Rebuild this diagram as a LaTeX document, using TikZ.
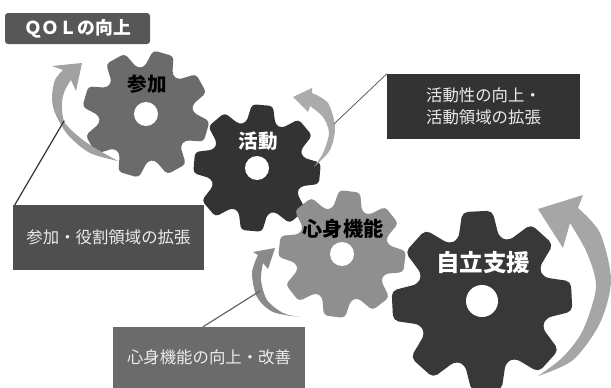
\documentclass[tikz,border=0pt]{standalone}
\usepackage{fontspec}
\newfontfamily\jp{Noto Sans CJK JP}
\tikzset{
  x=1pt,y=-1pt,
  callout/.style={draw=none,minimum height=65pt,text=white!92!black,inner sep=0pt,align=center,font=\jp\fontsize{16.4}{22}\selectfont},
  gearlabel/.style={inner sep=0pt,font=\jp\bfseries},
  curl/.style={draw=none},
  leader/.style={line cap=round}
}
\newcommand{\gearshape}[7]{% cx cy Rtip Rroot phase colour holeR
  \begin{scope}[shift={(#1,#2)}]
    \fill[#6,rounded corners=0.06*#3 pt] (#5-18:#4 pt)
      \foreach \k [evaluate=\k as \t using #5+45*\k, evaluate=\k as \n using #5+45*\k+45] in {0,...,6}{
        -- (\t-9.5:#3 pt) -- (\t+9.5:#3 pt) -- (\t+18:#4 pt) -- (\n-18:#4 pt)
      }
      -- (#5+315-9.5:#3 pt) -- (#5+315+9.5:#3 pt) -- (#5+315+18:#4 pt) -- cycle;
    \fill[white] (0,0) circle (#7 pt);
  \end{scope}}
\begin{document}
\begin{tikzpicture}
\useasboundingbox (0,0) rectangle (611,388);
\clip (0,0) rectangle (611,388);
\fill[white] (0,0) rectangle (611,388);
% leader end points
\coordinate (endA) at (64,121);
\coordinate (endB) at (334,124);
\coordinate (endC) at (260,291);
% gears
\gearshape{146}{114}{64}{47}{74}{black!58}{12}
\gearshape{257}{168}{64}{47}{85}{black!80}{12}
\gearshape{342}{254}{64}{47}{83}{black!44}{12}
\gearshape{482}{301}{91}{66}{93}{black!78}{16}
% curved arrows
\fill[black!37,curl] plot[smooth] coordinates {(118,161) (90,153) (68,135) (55,113) (52,97) (55,80) (63,70)}
  -- (52,66) -- (82,63) -- (76,91) -- (71,80)
  -- plot[smooth] coordinates {(71,80) (65,90) (62,103) (65,123) (87,143) (118,161)} -- cycle;
\fill[black!33,curl] plot[smooth] coordinates {(314,167) (330,150) (335,127) (328,103) (312,93)}
  -- (312,88) -- (293,97) -- (308,112) -- (310,106)
  -- plot[smooth] coordinates {(310,106) (323,117) (329,133) (323,153) (314,167)} -- cycle;
\fill[black!46,curl] plot[smooth] coordinates {(300,317) (273,312) (257,297) (252,273) (258,255)}
  -- (253,252) -- (275,248) -- (268,269) -- (263,263)
  -- plot[smooth] coordinates {(263,263) (261,280) (267,300) (283,313) (300,317)} -- cycle;
\fill[black!35,curl] plot[smooth] coordinates {(538,376) (573,360) (600,323) (611,280) (600,233) (578,208)}
  -- (583,195) -- (538,209) -- (563,248) -- (570,223)
  -- plot[smooth] coordinates {(570,223) (587,253) (596,287) (583,330) (563,357) (538,376)} -- cycle;
% title
\node[name=qol,fill=black!66,rounded corners=3pt,minimum width=145pt,minimum height=31pt,inner sep=0pt,text=white,font=\jp\bfseries\fontsize{17.8}{20}\selectfont] at (77.5,28.5) {ＱＯＬの向上};
% callouts
\node[callout,name=boxA,fill=black!69,minimum width=191pt] at (108.5,237.5) {参加・役割領域の拡張};
\node[callout,name=boxB,fill=black!80,minimum width=193pt] at (483.5,106.5) {活動性の向上・\\活動領域の拡張};
\node[callout,name=boxC,fill=black!58,minimum width=192pt,minimum height=61pt] at (209,357.5) {心身機能の向上・改善};
\draw[leader,black!80,line width=1.2pt] (boxA.north west) ++(2,0) -- (endA);
\draw[leader,black!70,line width=0.7pt] (boxB.north west) -- (endB);
\draw[leader,black!60,line width=1.2pt] ([xshift=-6pt]boxC.north) -- (endC);
% gear labels
\node[gearlabel,name=sanka,text=black,font=\jp\bfseries\fontsize{19.5}{20}\selectfont] at (147,84) {参加};
\node[gearlabel,name=katsudo,text=white,font=\jp\bfseries\fontsize{19.5}{20}\selectfont] at (258,141) {活動};
\node[gearlabel,name=shinshin,text=black,font=\jp\bfseries\fontsize{20.2}{20}\selectfont] at (343,229) {心身機能};
\node[gearlabel,name=jiritsu,text=white,font=\jp\bfseries\fontsize{23.5}{24}\selectfont] at (483,263) {自立支援};
\end{tikzpicture}
\end{document}
